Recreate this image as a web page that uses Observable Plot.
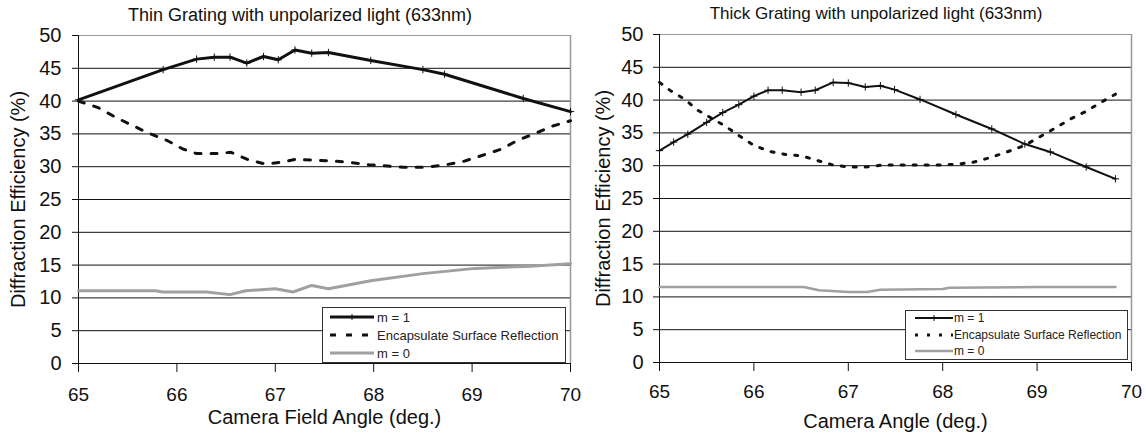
<!DOCTYPE html>
<html><head><meta charset="utf-8">
<script src="https://cdn.jsdelivr.net/npm/d3@7"></script>
<script src="https://cdn.jsdelivr.net/npm/@observablehq/plot@0.6"></script>
<style>
body{margin:0;background:#fff;font-family:"Liberation Sans",Arial,sans-serif;}
#wrap{position:relative;width:1146px;height:439px;overflow:hidden;background:#fff;}
.title{position:absolute;white-space:nowrap;transform:translateX(-50%);color:#111;line-height:1;}
.panel{position:absolute;top:28px;}
.legend{position:absolute;border:1.5px solid #333;background:#fff;box-sizing:border-box;}
.row{position:absolute;left:0;height:16px;display:flex;align-items:center;white-space:nowrap;color:#222;}
.row svg{display:block;}
</style></head>
<body>
<div id="wrap"></div>
<script>
// ---------- data ----------
const xTicks = [65, 66, 67, 68, 69, 70];
const yTicks = [0, 5, 10, 15, 20, 25, 30, 35, 40, 45, 50];
const gridVals = [0, 5, 10, 15, 20, 25, 30, 35, 40, 45];
const seriesNames = ["m = 1", "Encapsulate Surface Reflection", "m = 0"];

// Thin grating
const thinM1X = [65, 65.86, 66.2, 66.38, 66.54, 66.71, 66.88, 67.03, 67.2, 67.37, 67.54, 67.97, 68.5, 68.72, 69.52, 70];
const thinM1Y = [40.2, 44.8, 46.4, 46.7, 46.7, 45.8, 46.8, 46.3, 47.8, 47.3, 47.4, 46.2, 44.8, 44.1, 40.4, 38.4];
const thinRefX = [65, 65.2, 65.38, 65.7, 65.9, 66.06, 66.2, 66.4, 66.55, 66.72, 66.9, 67.06, 67.2, 67.38, 67.54, 67.74, 67.95, 68.14, 68.3, 68.5, 68.7, 68.91, 69.1, 69.3, 69.46, 69.63, 69.82, 70];
const thinRefY = [40, 39, 37.5, 35.2, 34, 32.7, 32, 32, 32.2, 31.1, 30.4, 30.7, 31.1, 31, 30.9, 30.7, 30.3, 30.1, 29.9, 29.9, 30.2, 30.8, 31.7, 32.7, 34, 35, 36.2, 37];
const thinM0X = [65, 65.78, 65.86, 66.3, 66.54, 66.7, 67, 67.18, 67.37, 67.54, 67.97, 68.5, 69.03, 69.55, 70];
const thinM0Y = [11.1, 11.1, 10.9, 10.9, 10.5, 11.1, 11.4, 10.9, 11.9, 11.4, 12.6, 13.7, 14.5, 14.8, 15.2];

// Thick grating
const thickM1X = [65, 65.15, 65.3, 65.5, 65.67, 65.84, 66.0, 66.15, 66.3, 66.5, 66.65, 66.84, 67.0, 67.18, 67.34, 67.49, 67.76, 68.14, 68.52, 68.87, 69.14, 69.52, 69.83];
const thickM1Y = [32.3, 33.6, 34.8, 36.6, 38.1, 39.3, 40.6, 41.5, 41.5, 41.2, 41.5, 42.7, 42.6, 42.0, 42.2, 41.6, 40.1, 37.8, 35.6, 33.3, 32.1, 29.8, 28.0];
const thickRefX = [65, 65.12, 65.27, 65.4, 65.69, 65.84, 66.0, 66.16, 66.34, 66.51, 66.67, 66.84, 67.0, 67.18, 67.36, 67.55, 67.72, 67.99, 68.16, 68.33, 68.52, 68.72, 68.87, 69.04, 69.2, 69.35, 69.52, 69.67, 69.83];
const thickRefY = [42.7, 41.4, 40.1, 38.5, 36.1, 34.6, 33.1, 32.2, 31.7, 31.5, 30.8, 30.1, 29.8, 29.8, 30.1, 30.1, 30.1, 30.1, 30.25, 30.55, 31.3, 32.3, 33.1, 34.5, 35.8, 37.1, 38.3, 39.6, 40.9];
const thickM0X = [65, 66, 66.53, 66.69, 67, 67.2, 67.34, 68, 68.07, 69, 69.83];
const thickM0Y = [11.5, 11.5, 11.5, 11.0, 10.75, 10.75, 11.1, 11.2, 11.4, 11.5, 11.5];

const zip = (xs, ys) => xs.map((x, i) => ({x, y: ys[i]}));
const FONT = '"Liberation Sans", Arial, sans-serif';

function makePanel(c) {
  const m1 = zip(c.m1x, c.m1y), ref = zip(c.refx, c.refy), m0 = zip(c.m0x, c.m0y);
  return Plot.plot({
    width: c.width, height: 411,
    marginLeft: c.ml, marginRight: c.mr, marginTop: c.mt, marginBottom: c.mb,
    x: {domain: [65, 70]}, y: {domain: [0, 50]},
    style: {fontFamily: FONT, fontSize: "19px", color: "#111", background: "transparent", overflow: "visible"},
    marks: [
      Plot.ruleY(gridVals, {stroke: "#111", strokeWidth: 1}),
      Plot.ruleY([50], {stroke: "#999", strokeWidth: 1}),
      Plot.ruleX([70], {stroke: "#999", strokeWidth: 1.5}),
      Plot.ruleX([65], {stroke: "#111", strokeWidth: 1}),
      Plot.axisY({ticks: yTicks, tickSize: 6, tickPadding: c.yPad, label: null, fontSize: 20, tickFormat: d => String(d)}),
      Plot.axisX({ticks: xTicks, tickSize: 9, tickPadding: c.xPad, label: null, fontSize: 19, tickFormat: d => String(d)}),
      Plot.line(m0, {x: "x", y: "y", stroke: "#a0a0a0", strokeWidth: c.gw}),
      Plot.line(ref, {x: "x", y: "y", stroke: "#111", strokeWidth: c.dw, strokeDasharray: c.dash}),
      Plot.line(m1, {x: "x", y: "y", stroke: "#111", strokeWidth: c.mw}),
      Plot.dot(m1, {x: "x", y: "y", symbol: "plus", r: 2.5, stroke: "#111", strokeWidth: 1}),
      Plot.text([c.ylabel], {text: d => d, frameAnchor: "left", textAnchor: "middle", lineAnchor: "middle", rotate: -90, dx: c.ylabDx, fontSize: 20}),
      Plot.text([c.xlabel], {text: d => d, frameAnchor: "bottom", dy: c.xlabDy, fontSize: 20})
    ]
  });
}

const wrap = document.getElementById("wrap");

function addTitle(text, cx, top, size) {
  const t = document.createElement("div");
  t.className = "title";
  t.textContent = text;
  t.style.left = cx + "px"; t.style.top = top + "px"; t.style.fontSize = size + "px";
  wrap.appendChild(t);
}

function addPanel(left, plot) {
  const d = document.createElement("div");
  d.className = "panel"; d.style.left = left + "px";
  d.appendChild(plot); wrap.appendChild(d);
}

function addLegend(L) {
  const box = document.createElement("div");
  box.className = "legend";
  Object.assign(box.style, {left: L.x + "px", top: L.y + "px", width: L.w + "px", height: L.h + "px"});
  const styles = [
    {stroke: "#111", w: L.mw, dash: null, plus: true},
    {stroke: "#111", w: L.dw, dash: L.dash, plus: false},
    {stroke: "#a0a0a0", w: L.gw, dash: null, plus: false}
  ];
  seriesNames.forEach((name, i) => {
    const r = document.createElement("div");
    r.className = "row";
    r.style.top = (L.rows[i] - 8) + "px";
    r.style.left = L.sx + "px";
    r.style.fontSize = L.fs + "px";
    const s = styles[i];
    const len = L.slen;
    let svg = `<svg width="${len}" height="16"><line x1="0" x2="${len}" y1="8" y2="8" stroke="${s.stroke}" stroke-width="${s.w}" ${s.dash ? `stroke-dasharray="${s.dash}"` : ""}/>`;
    if (s.plus) svg += `<line x1="${len/2}" x2="${len/2}" y1="5" y2="11" stroke="#111" stroke-width="1"/>`;
    svg += `</svg>`;
    r.innerHTML = svg + `<span style="margin-left:${L.gap}px">${name}</span>`;
    box.appendChild(r);
  });
  wrap.appendChild(box);
}

addTitle("Thin Grating with unpolarized light (633nm)", 300, 6, 18);
addTitle("Thick Grating with unpolarized light (633nm)", 876, 5, 17);

addPanel(0, makePanel({
  width: 580, ml: 78, mr: 10, mt: 7, mb: 76,
  m1x: thinM1X, m1y: thinM1Y, refx: thinRefX, refy: thinRefY, m0x: thinM0X, m0y: thinM0Y,
  mw: 3, dw: 3, gw: 3, dash: "6,10", yPad: 11, xPad: 15,
  ylabel: "Diffraction Efficiency (%)", ylabDx: -60,
  xlabel: "Camera Field Angle (deg.)", xlabDy: 60
}));

addPanel(580, makePanel({
  width: 566, ml: 79, mr: 15, mt: 6, mb: 77,
  m1x: thickM1X, m1y: thickM1Y, refx: thickRefX, refy: thickRefY, m0x: thickM0X, m0y: thickM0Y,
  mw: 2, dw: 3, gw: 2.5, dash: "3,9", yPad: 10, xPad: 13,
  ylabel: "Diffraction Efficiency (%)", ylabDx: -56,
  xlabel: "Camera Angle (deg.)", xlabDy: 65
}));

addLegend({x: 322, y: 307, w: 244, h: 56, rows: [9, 27, 45], sx: 7, slen: 44, gap: 3, fs: 13, mw: 3, dw: 3, gw: 3, dash: "6,10"});
addLegend({x: 905, y: 310, w: 223, h: 50, rows: [7, 24, 40], sx: 9, slen: 38, gap: 1, fs: 12, mw: 2, dw: 3, gw: 2.5, dash: "3,9"});
</script>
</body></html>
